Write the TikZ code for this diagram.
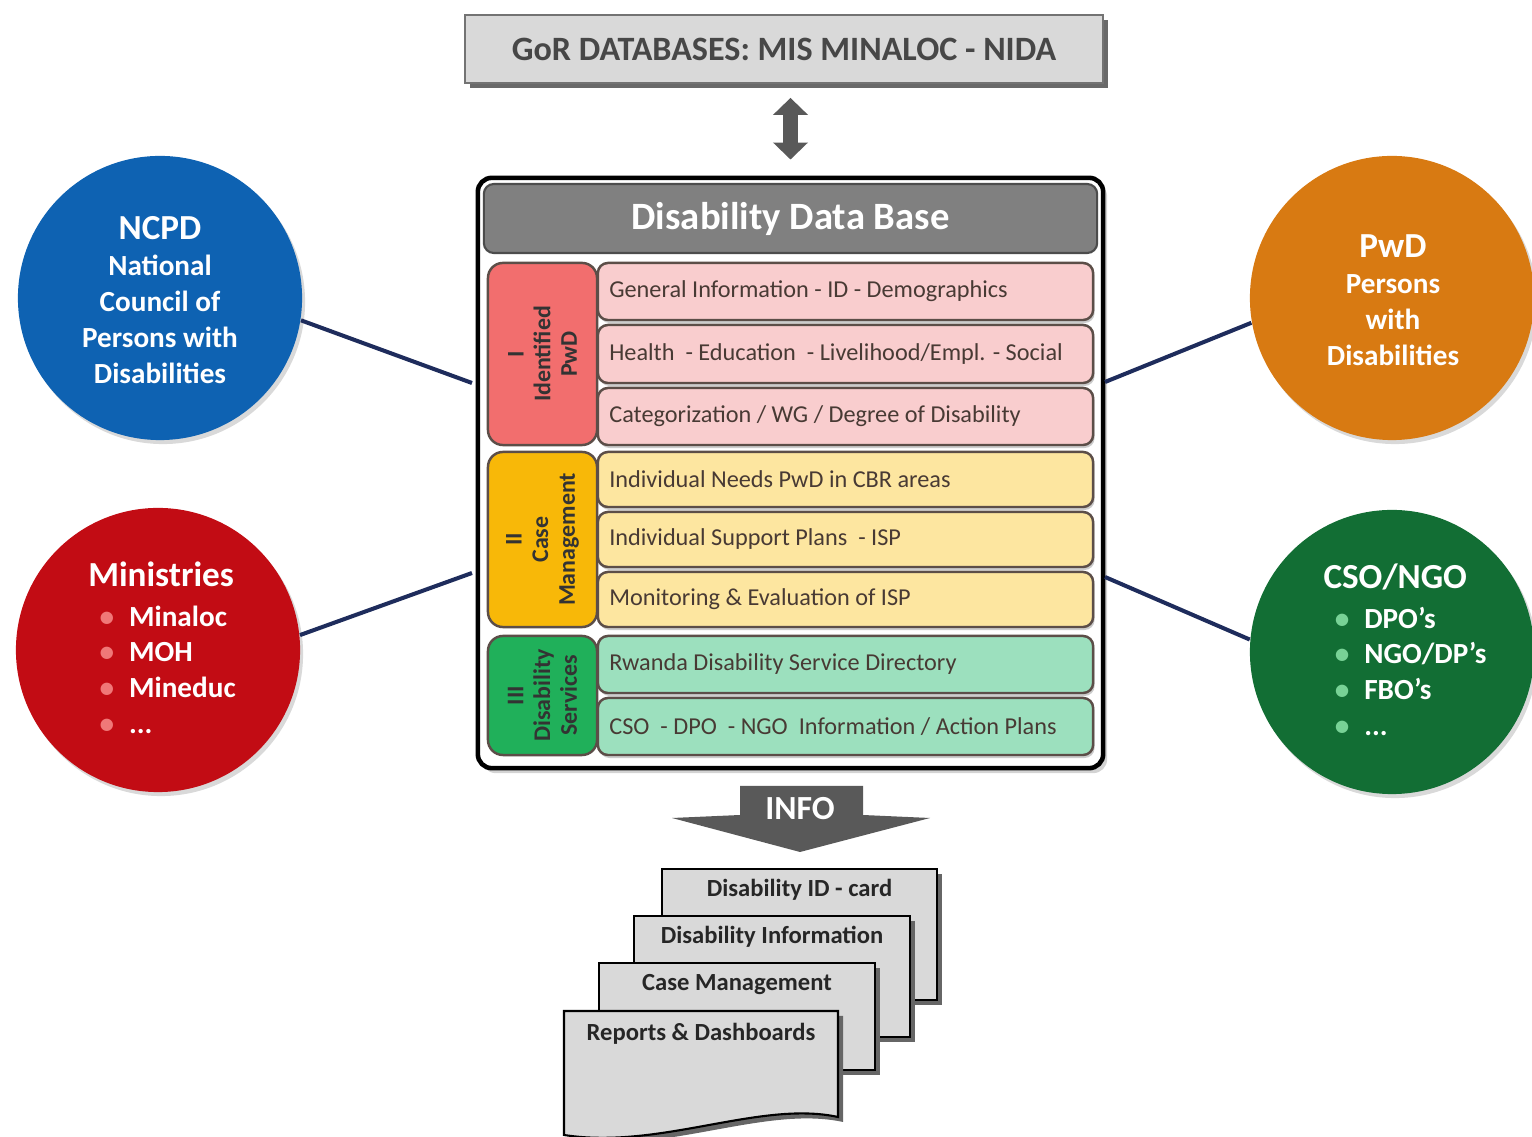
\documentclass[tikz,border=0pt]{standalone}
\usepackage{fontspec}
\setmainfont{Carlito}
\usetikzlibrary{shadows,arrows.meta}
\definecolor{ncpdblue}{RGB}{14,98,178}
\definecolor{minred}{RGB}{194,12,20}
\definecolor{pwdorange}{RGB}{216,122,18}
\definecolor{csogreen}{RGB}{18,110,52}
\definecolor{secred}{RGB}{242,110,110}
\definecolor{rowred}{RGB}{249,205,206}
\definecolor{secyel}{RGB}{248,184,8}
\definecolor{rowyel}{RGB}{253,230,160}
\definecolor{secgrn}{RGB}{32,176,90}
\definecolor{rowgrn}{RGB}{156,224,190}
\definecolor{rowtext}{RGB}{72,58,52}
\definecolor{rowline}{RGB}{92,78,72}
\definecolor{navyline}{RGB}{30,44,92}
\definecolor{arrowgray}{RGB}{89,89,89}
\definecolor{docgray}{RGB}{217,217,217}
\definecolor{hdrgray}{RGB}{128,128,128}
\definecolor{redbul}{RGB}{240,120,120}
\definecolor{grnbul}{RGB}{120,210,150}
\newcommand\ctitle{\fontsize{10}{11}\selectfont}
\newcommand\bulitem[2]{\makebox[11.6pt][l]{\hspace*{3.2pt}\textcolor{#1}{\textbullet}}#2}
\begin{document}
\begin{tikzpicture}[x=0.01cm,y=-0.01cm,
  gorbox/.style={draw=black!55, line width=0.5pt, fill=docgray, minimum width=6.38cm, minimum height=0.68cm, inner sep=0,
    drop shadow={shadow xshift=0.05cm, shadow yshift=-0.05cm, fill=black!65, opacity=0.9},
    font=\fontsize{9.7}{11}\selectfont\bfseries, text=black!72},
  dbbox/.style={draw=black, line width=1.3pt, rounded corners=0.14cm, fill=white, minimum width=6.25cm, minimum height=5.9cm,
    drop shadow={shadow xshift=0.04cm, shadow yshift=-0.05cm, opacity=0.35}},
  header/.style={draw=black!70, line width=0.6pt, fill=hdrgray, rounded corners=0.1cm, minimum width=6.13cm, minimum height=0.69cm,
    text=white, font=\fontsize{11}{13}\selectfont\bfseries},
  secbox/.style={draw=rowline, line width=0.7pt, rounded corners=0.15cm, minimum height=1.09cm, inner sep=0, rotate=90,
    align=center, text=black!80, font=\fontsize{6.8}{7.6}\selectfont\bfseries},
  rowbox/.style={draw=rowline, line width=0.7pt, rounded corners=0.1cm, minimum width=4.95cm, inner sep=0,
    drop shadow={shadow xshift=0.015cm, shadow yshift=-0.03cm, opacity=0.4}},
  rowlabel/.style={anchor=west, inner sep=0, font=\fontsize{6.9}{8}\selectfont, text=rowtext},
  circ/.style={circle, minimum size=2.84cm, inner sep=0,
    drop shadow={shadow xshift=0.03cm, shadow yshift=-0.04cm, opacity=0.3}},
  ctext/.style={text=white, font=\fontsize{8.3}{10.2}\selectfont\bfseries},
  link/.style={draw=navyline, line width=1.15pt},
  dblarrow/.style={draw=arrowgray, line width=0.14cm, {Triangle[width=0.34cm,length=0.17cm]}-{Triangle[width=0.34cm,length=0.17cm]},
    shorten <=0.14cm, shorten >=0.16cm},
  doc/.style={draw=black, line width=0.6pt, fill=docgray, inner sep=0,
    drop shadow={shadow xshift=0.05cm, shadow yshift=-0.05cm, fill=black!60, opacity=1}},
  doctext/.style={font=\fontsize{7}{8}\selectfont\bfseries, text=black!85},
  infotext/.style={text=white, font=\fontsize{9.6}{11}\selectfont\bfseries}
]
\useasboundingbox (0,0) rectangle (1532,1137);

% top database
\node[gorbox] (gor) at (784,49) {GoR DATABASES: MIS MINALOC - NIDA};

% main data base
\node[dbbox] (db) at (790.5,473) {};
\node[header] (hdr) at (790.5,218.5) {Disability Data Base};
\draw[dblarrow] (gor.south -| db.north) -- (db.north);

% sections
\node[secbox, fill=secred, minimum width=1.82cm] (s1) at (542.5,354) {I\\Identified\\PwD};
\node[secbox, fill=secyel, minimum width=1.75cm] (s2) at (542.5,539.5) {II\\Case\\Management};
\node[secbox, fill=secgrn, minimum width=1.19cm] (s3) at (542.5,695.5) {III\\Disability\\Services};

% rows
\node[rowbox, fill=rowred, minimum height=0.57cm] (r11) at (845.5,291.5) {};
\node[rowbox, fill=rowred, minimum height=0.58cm] (r12) at (845.5,354) {};
\node[rowbox, fill=rowred, minimum height=0.57cm] (r13) at (845.5,416.5) {};
\node[rowbox, fill=rowyel, minimum height=0.55cm] (r21) at (845.5,479.5) {};
\node[rowbox, fill=rowyel, minimum height=0.55cm] (r22) at (845.5,539.5) {};
\node[rowbox, fill=rowyel, minimum height=0.55cm] (r23) at (845.5,599.5) {};
\node[rowbox, fill=rowgrn, minimum height=0.57cm] (r31) at (845.5,664.5) {};
\node[rowbox, fill=rowgrn, minimum height=0.57cm] (r32) at (845.5,726.5) {};

\node[rowlabel] (l11) at ([xshift=0.12cm]r11.west) {General Information - ID - Demographics};
\node[rowlabel] (l12) at ([xshift=0.12cm]r12.west) {Health \ - Education \ - Livelihood/Empl. - Social};
\node[rowlabel] (l13) at ([xshift=0.12cm]r13.west) {Categorization / WG / Degree of Disability};
\node[rowlabel] (l21) at ([xshift=0.12cm]r21.west) {Individual Needs PwD in CBR areas};
\node[rowlabel] (l22) at ([xshift=0.12cm]r22.west) {Individual Support Plans \ - ISP};
\node[rowlabel] (l23) at ([xshift=0.12cm]r23.west) {Monitoring \& Evaluation of ISP};
\node[rowlabel] (l31) at ([xshift=0.12cm]r31.west) {Rwanda Disability Service Directory};
\node[rowlabel] (l32) at ([xshift=0.12cm]r32.west) {CSO \ - DPO \ - NGO \ Information / Action Plans};

% connectors to the circles
\coordinate (dbL1) at (472,383);
\coordinate (dbL2) at (472,573);
\coordinate (dbR1) at (1105,382);
\coordinate (dbR2) at (1105,577);

% circles
\node[circ, fill=ncpdblue] (ncpd) at (160,298) {};
\node[circ, fill=minred] (mins) at (158,650) {};
\node[circ, fill=pwdorange] (pwd) at (1392,298) {};
\node[circ, fill=csogreen] (cso) at (1392,652) {};

\draw[link] (ncpd.-9) -- (dbL1);
\draw[link] (mins.6) -- (dbL2);
\draw[link] (pwd.190) -- (dbR1);
\draw[link] (cso.175) -- (dbR2);

\node[ctext, align=center] (ncpdt) at (160,300) {{\ctitle NCPD}\\National\\Council of\\Persons with\\Disabilities};
\node[ctext, align=center] (pwdt) at (1393,300) {{\ctitle PwD}\\Persons\\with\\Disabilities};
\node[ctext, align=left] (minst) at (162,648) {{\ctitle Ministries}\\[1pt]\bulitem{redbul}{Minaloc}\\\bulitem{redbul}{MOH}\\\bulitem{redbul}{Mineduc}\\\bulitem{redbul}{...}};
\node[ctext, align=left] (csot) at (1405,650) {{\ctitle CSO/NGO}\\[1pt]\bulitem{grnbul}{DPO’s}\\\bulitem{grnbul}{NGO/DP’s}\\\bulitem{grnbul}{FBO’s}\\\bulitem{grnbul}{...}};

% INFO arrow
\fill[arrowgray] (740,786) -- (863,786) -- (863,815) -- (930,818) -- (800,852) -- (672,818) -- (740,815) -- cycle;
\node[infotext] (info) at (800,809) {INFO};

% documents
\node[doc, minimum width=2.75cm, minimum height=1.31cm] (d1) at (799.5,934.5) {};
\node[doctext] (t1) at ([yshift=-0.22cm]d1.north) {Disability ID - card};
\node[doc, minimum width=2.76cm, minimum height=1.21cm] (d2) at (772,976.5) {};
\node[doctext] (t2) at ([yshift=-0.22cm]d2.north) {Disability Information};
\node[doc, minimum width=2.76cm, minimum height=1.07cm] (d3) at (737,1016.5) {};
\node[doctext] (t3) at ([yshift=-0.23cm]d3.north) {Case Management};
\draw[doc] (564,1011) coordinate (d4nw) -- (838,1011) coordinate (d4ne) -- (838,1117)
  .. controls (760,1100) and (660,1150) .. (564,1135) -- cycle;
\node[doctext] (t4) at (701,1034) {Reports \& Dashboards};
\end{tikzpicture}
\end{document}
